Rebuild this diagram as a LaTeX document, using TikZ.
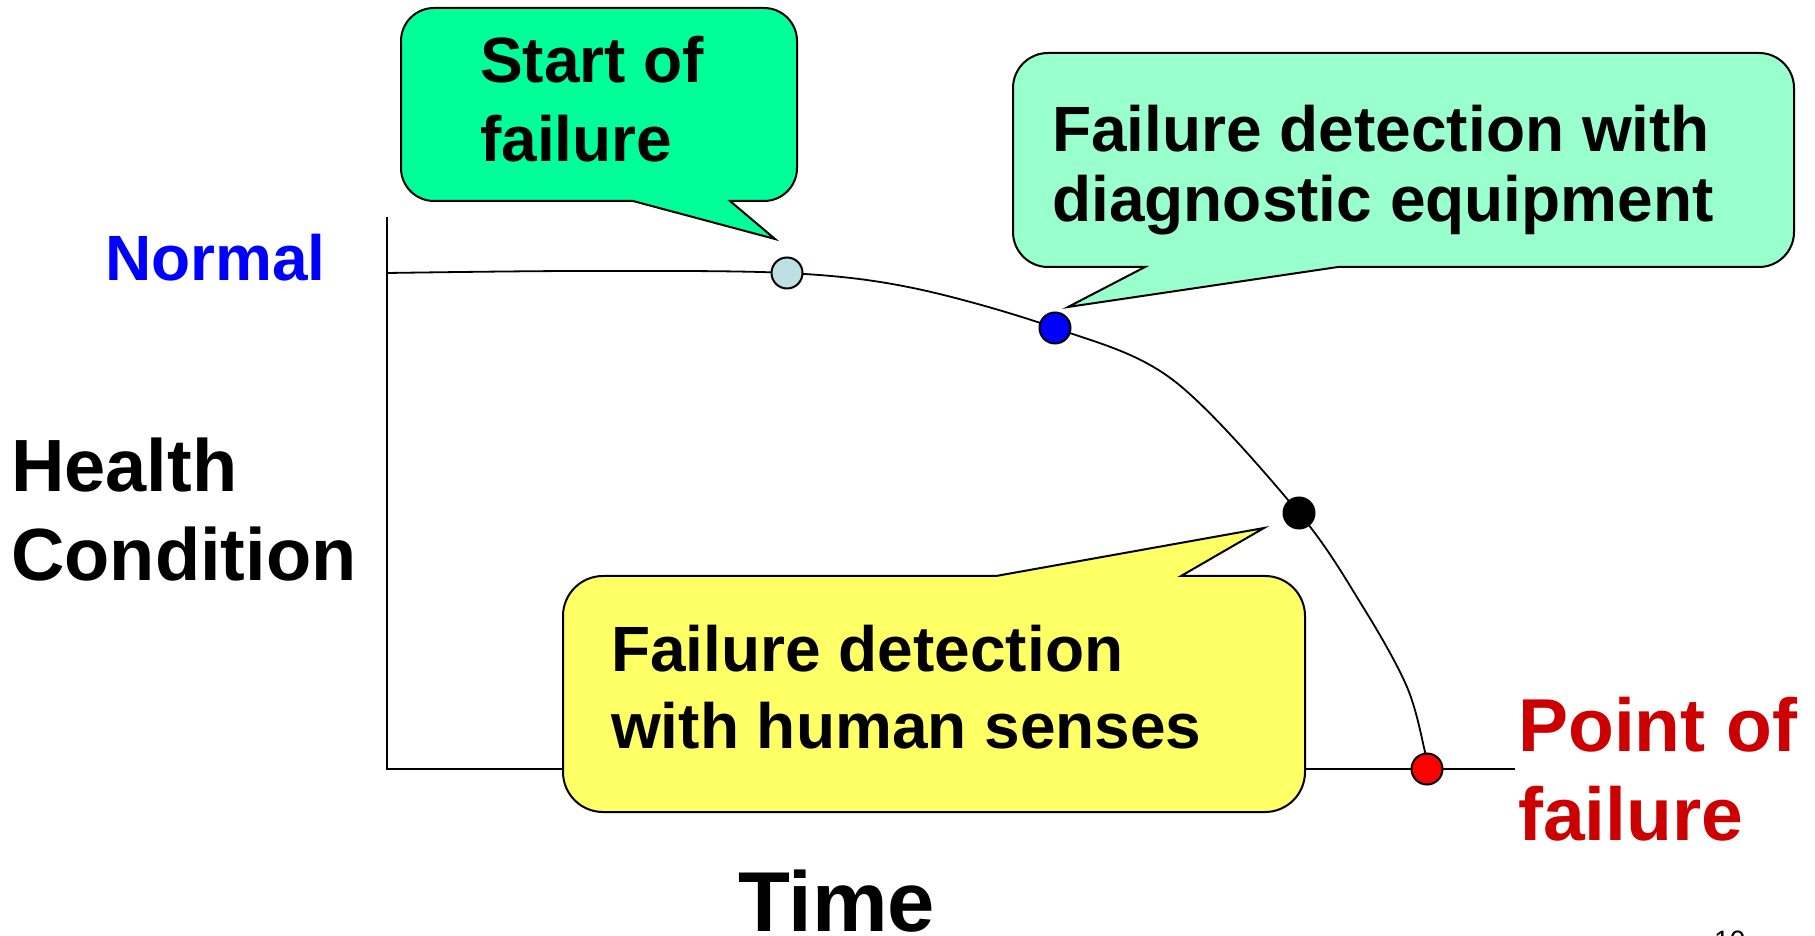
\documentclass[tikz,border=0pt]{standalone}
\usepackage{fontspec}
\setmainfont{Liberation Sans}
\definecolor{startgreen}{RGB}{0,255,153}
\definecolor{diaggreen}{RGB}{153,255,204}
\definecolor{senseyellow}{RGB}{255,255,102}
\definecolor{onsetblue}{RGB}{188,224,227}
\definecolor{failred}{RGB}{204,0,0}
\begin{document}
\begin{tikzpicture}[x=1pt,y=1pt,
  axis/.style={line width=2pt},
  trend/.style={line width=1.8pt},
  callout/.style={draw=black,line width=2pt,line join=miter},
  marker/.style={circle,draw=black,line width=2pt,minimum size=31pt,inner sep=0pt},
  txt/.style={anchor=base west,inner sep=0pt},
  boxtext/.style={txt,font=\bfseries\fontsize{64}{64}\selectfont},
  bigtext/.style={txt,font=\bfseries\fontsize{74}{74}\selectfont}]
\useasboundingbox (0,0) rectangle (1815,935);

% axes
\coordinate (origin) at (387,166);
\coordinate (ytop) at (387,718);
\coordinate (xend) at (1515,166);
\draw[axis] (ytop) -- (origin) -- (xend);

% points on the health curve
\coordinate (pOnset) at (787,662);
\coordinate (pDiag) at (1055,607);
\coordinate (pSense) at (1299,422);
\coordinate (pFail) at (1427,166);

% health condition curve
\draw[trend] plot[smooth,tension=0.55] coordinates {(387,662) (580,664) (pOnset) (913,647) (pDiag) (1173,555) (pSense) (1363,328) (1407,248) (1425,183) (pFail)};

% callouts
\coordinate (tipOnset) at (775,696);
\coordinate (tipDiag) at (1068,628);
\coordinate (tipSense) at (1264,407);
\draw[callout,fill=startgreen] (401,767) -- (401,894) arc[start angle=180,end angle=90,radius=33]
  -- (764,927) arc[start angle=90,end angle=0,radius=33]
  -- (797,767) arc[start angle=0,end angle=-90,radius=33]
  -- (730,734) -- (tipOnset) -- (633,734)
  -- (434,734) arc[start angle=270,end angle=180,radius=33] -- cycle;
\draw[callout,fill=diaggreen] (1013,703) -- (1013,847) arc[start angle=180,end angle=90,radius=35]
  -- (1759,882) arc[start angle=90,end angle=0,radius=35]
  -- (1794,703) arc[start angle=0,end angle=-90,radius=35]
  -- (1338,668) -- (tipDiag) -- (1145,668)
  -- (1048,668) arc[start angle=270,end angle=180,radius=35] -- cycle;
\draw[callout,fill=senseyellow] (563,163) -- (563,319) arc[start angle=180,end angle=90,radius=40]
  -- (996,359) -- (tipSense) -- (1181,359)
  -- (1265,359) arc[start angle=90,end angle=0,radius=40]
  -- (1305,163) arc[start angle=0,end angle=-90,radius=40]
  -- (603,123) arc[start angle=270,end angle=180,radius=40] -- cycle;

% markers
\node[marker,fill=onsetblue] (onset) at (pOnset) {};
\node[marker,fill=blue] (diag) at (pDiag) {};
\node[marker,fill=black] (sense) at (pSense) {};
\node[marker,fill=red] (fail) at (pFail) {};

% callout texts
\node[boxtext] (start1) at (480,852) {Start of};
\node[boxtext] (start2) at (480,773) {failure};
\node[boxtext] (diag1) at (1052,783) {Failure detection with};
\node[boxtext] (diag2) at (1052,713) {diagnostic equipment};
\node[boxtext] (sense1) at (611,263) {Failure detection};
\node[boxtext] (sense2) at (611,187) {with human senses};

% axis labels
\node[boxtext,text=blue] (normal) at (105,654) {Normal};
\node[bigtext] (health1) at (11,443) {Health};
\node[bigtext] (health2) at (11,354) {Condition};
\node[txt,font=\bfseries\fontsize{85}{85}\selectfont] (time) at (738,4) {Time};
\node[txt,text=failred,font=\bfseries\fontsize{75}{75}\selectfont] (point1) at (1518,184) {Point of};
\node[txt,text=failred,font=\bfseries\fontsize{75}{75}\selectfont] (point2) at (1518,95) {failure};

% page number
\node[txt,font=\fontsize{28}{28}\selectfont] (page) at (1714,-15) {10};
\end{tikzpicture}
\end{document}
